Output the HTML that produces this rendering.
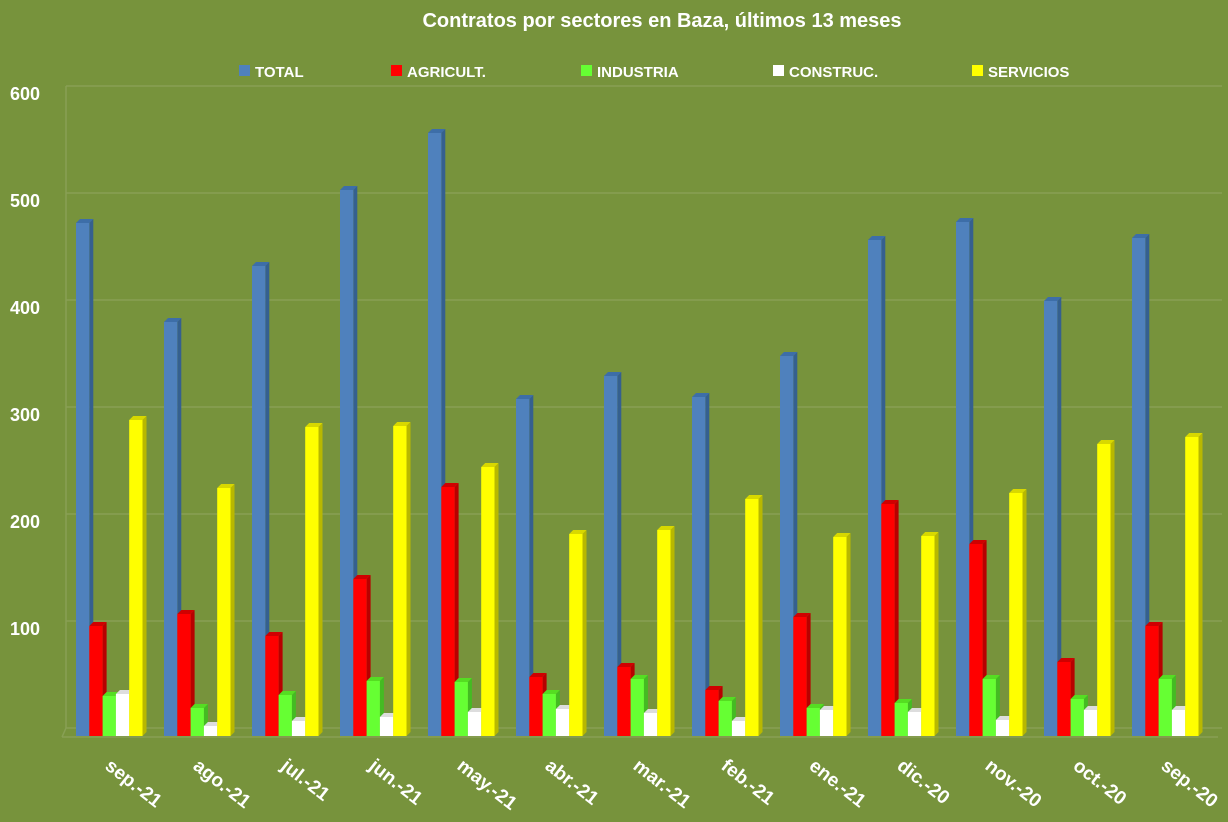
<!DOCTYPE html>
<html><head><meta charset="utf-8"><style>
body{margin:0;background:#77933C;}
svg{display:block;font-family:"Liberation Sans",sans-serif;font-weight:bold;fill:#fff}
</style></head><body>
<svg width="1228" height="822" viewBox="0 0 1228 822">
<rect width="1228" height="822" fill="#77933C"/>
<text x="662" y="27" font-size="20" text-anchor="middle">Contratos por sectores en Baza, últimos 13 meses</text>
<g font-size="15">
<rect x="239" y="65" width="11" height="11" fill="#4F81BD"/><text x="255" y="77">TOTAL</text>
<rect x="391" y="65" width="11" height="11" fill="#FF0000"/><text x="407" y="77">AGRICULT.</text>
<rect x="581" y="65" width="11" height="11" fill="#66FF33"/><text x="597" y="77">INDUSTRIA</text>
<rect x="773" y="65" width="11" height="11" fill="#FFFFFF"/><text x="789" y="77">CONSTRUC.</text>
<rect x="972" y="65" width="11" height="11" fill="#FFFF00"/><text x="988" y="77">SERVICIOS</text>
</g>
<g stroke="#88A055" stroke-width="1.5">
<line x1="66" y1="86" x2="1222" y2="86"/><line x1="66" y1="193" x2="1222" y2="193"/>
<line x1="66" y1="300" x2="1222" y2="300"/><line x1="66" y1="407" x2="1222" y2="407"/>
<line x1="66" y1="514" x2="1222" y2="514"/><line x1="66" y1="621" x2="1222" y2="621"/>
<line x1="66" y1="728" x2="1222" y2="728"/>
<line x1="66" y1="86" x2="66" y2="728"/><line x1="62" y1="737" x2="1218" y2="737"/><line x1="62" y1="737" x2="66" y2="728"/>
</g>
<g font-size="18" text-anchor="end">
<text x="40" y="100">600</text><text x="40" y="207">500</text><text x="40" y="314">400</text>
<text x="40" y="421">300</text><text x="40" y="528">200</text><text x="40" y="635">100</text>
</g>
<g id="bars"></g>
<g id="labels" font-size="19"></g>
</svg>
<script>
var tops=[[221,624,694,692,418],[320,612,706,724,486],[264,634,693,719,425],[188,577,679,715,424],[131,485,680,710,465],[397,675,692,707,532],[374,665,677,711,528],[395,688,699,719,497],[354,615,706,708,535],[238,502,701,710,534],[220,542,677,718,491],[299,660,697,708,442],[236,624,677,708,435]];
var labs=["sep.-21","ago.-21","jul.-21","jun.-21","may.-21","abr.-21","mar.-21","feb.-21","ene.-21","dic.-20","nov.-20","oct.-20","sep.-20"];
var front=["#4F81BD","#FF0000","#66FF33","#FFFFFF","#FFFF00"];
var side=["#35608F","#B80000","#44BB22","#C8C8C8","#B8B800"];
var topc=["#3D6EA8","#D00000","#55DD22","#DDDDDD","#D8D800"];
var s="",l="",B=736,d=4,w=13.3;
for(var g=0;g<13;g++){var gx=76+g*88;
for(var k=0;k<5;k++){var x=gx+k*w,t=tops[g][k]+2;
s+='<polygon points="'+(x+w)+','+t+' '+(x+w+d)+','+(t-d)+' '+(x+w+d)+','+(B-d)+' '+(x+w)+','+B+'" fill="'+side[k]+'"/>';
s+='<polygon points="'+x+','+t+' '+(x+d)+','+(t-d)+' '+(x+w+d)+','+(t-d)+' '+(x+w)+','+t+'" fill="'+topc[k]+'"/>';
s+='<rect x="'+x+'" y="'+t+'" width="'+w+'" height="'+(B-t)+'" fill="'+front[k]+'"/>';}
l+='<text transform="translate('+(gx+28)+',768) rotate(38)">'+labs[g]+'</text>';}
document.getElementById("bars").innerHTML=s;document.getElementById("labels").innerHTML=l;
</script>
</body></html>
